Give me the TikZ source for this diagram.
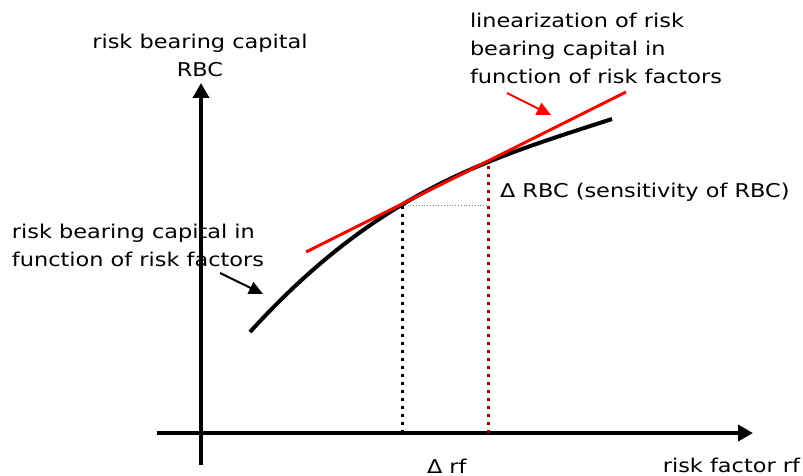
\documentclass[tikz,border=0pt]{standalone}
\usepackage{fontspec}
\setmainfont{DejaVu Sans}[FakeStretch=1.18]
\usetikzlibrary{arrows.meta}
\definecolor{darkred}{HTML}{990000}
\begin{document}
\begin{tikzpicture}[x=1pt,y=-1pt,
  lbl/.style={font=\fontsize{19}{28}\selectfont, inner sep=0pt, outer sep=0pt},
  axisline/.style={line width=4pt, -{Triangle[length=15pt,width=16pt]}},
  ptr/.style={line width=2pt, -{Triangle[length=14pt,width=13pt]}},
  dotv/.style={line width=3pt, dash pattern=on 3pt off 5pt}]
\useasboundingbox (0,0) rectangle (803,476);
% coordinates
\coordinate (yb) at (201,465);
\coordinate (yt) at (201,83);
\coordinate (xl) at (157,433);
\coordinate (xr) at (753,433);
\coordinate (c0) at (250,332);
\coordinate (c1) at (612,119);
\coordinate (l0) at (306,252);
\coordinate (l1) at (626,92);
\coordinate (p1) at (402,204);
\coordinate (p2) at (488,160);
\coordinate (p1b) at (402,433);
\coordinate (p2b) at (488,433);
\coordinate (h1) at (402,205);
\coordinate (h2) at (488,205);
\coordinate (ra0) at (507,93);
\coordinate (ra1) at (551,115);
\coordinate (ba0) at (220,273);
\coordinate (ba1) at (263,294);
% axes
\draw[axisline] (yb) -- (yt);
\draw[axisline] (xl) -- (xr);
% dotted helpers
\draw[dotv, black] (p1b) -- (p1);
\draw[dotv, darkred] (p2b) -- (p2);
\draw[gray, line width=0.8pt, dotted] (h1) -- (h2);
% curve
\draw[line width=4pt] (c0) .. controls (380,189) and (492,158) .. (c1);
% tangent
\draw[red, line width=3pt] (l0) -- (l1);
% pointers
\draw[ptr, red] (ra0) -- (ra1);
\draw[ptr, black] (ba0) -- (ba1);
% labels
\node[lbl, anchor=north, align=center] (ylab) at (200,33.6) {risk bearing capital\\RBC};
\node[lbl, anchor=north west, align=left] (linlab) at (470,12.6) {linearization of risk\\bearing capital in\\function of risk factors};
\node[lbl, anchor=north west, align=left] (funlab) at (12,223.6) {risk bearing capital in\\function of risk factors};
\node[lbl, anchor=base west] (drbc) at (500,197) {Δ RBC (sensitivity of RBC)};
\node[lbl, anchor=base west] (drf) at (427,473) {Δ rf};
\node[lbl, anchor=base east] (xlab) at (800,472) {risk factor rf};
\end{tikzpicture}
\end{document}
